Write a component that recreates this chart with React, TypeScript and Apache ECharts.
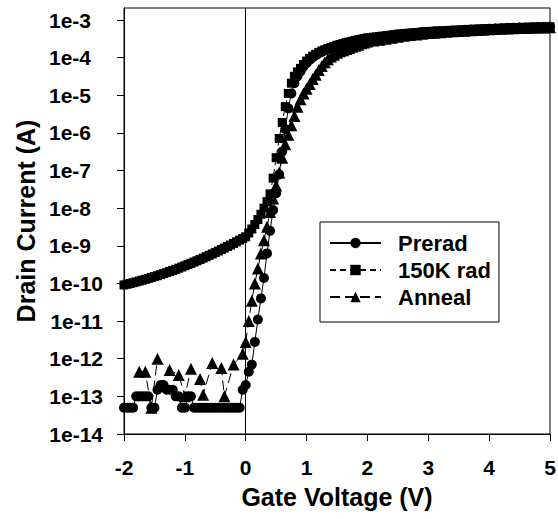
import React, { useEffect, useRef } from 'react';
import * as echarts from 'echarts';

// Gate voltage (V): 0.05 V steps up to 2 V, then 0.1 V steps
const GATE_V = [
  -2, -1.95, -1.9, -1.85, -1.8, -1.75, -1.7, -1.65, -1.6, -1.55, -1.5, -1.45, -1.4, -1.35, -1.3,
  -1.25, -1.2, -1.15, -1.1, -1.05, -1, -0.95, -0.9, -0.85, -0.8, -0.75, -0.7, -0.65, -0.6, -0.55,
  -0.5, -0.45, -0.4, -0.35, -0.3, -0.25, -0.2, -0.15, -0.1,
  -0.05, 0, 0.05, 0.1, 0.15, 0.2, 0.25, 0.3, 0.35, 0.4, 0.45, 0.5, 0.55, 0.6, 0.65, 0.7, 0.75, 0.8,
  0.85, 0.9, 0.95, 1, 1.05, 1.1, 1.15, 1.2, 1.25, 1.3, 1.35, 1.4, 1.45, 1.5, 1.55, 1.6, 1.65, 1.7,
  1.75, 1.8, 1.85, 1.9, 1.95, 2,
  2.1, 2.2, 2.3, 2.4, 2.5, 2.6, 2.7, 2.8, 2.9, 3, 3.1, 3.2, 3.3, 3.4, 3.5, 3.6, 3.7, 3.8, 3.9, 4,
  4.1, 4.2, 4.3, 4.4, 4.5, 4.6, 4.7, 4.8, 4.9, 5,
];

// Drain current (A)
const PRERAD = [
  5e-14, 5e-14, 5e-14, 5e-14, 1e-13, 1e-13, 1e-13, 1e-13, 1e-13, 5e-14, 5e-14, 1.5e-13, 2e-13, 2e-13, 1.5e-13,
  1.5e-13, 1.5e-13, 1e-13, 1e-13, 5e-14, 5e-14, 1e-13, 1e-13, 5e-14, 5e-14, 5e-14, 5e-14, 5e-14, 5e-14, 5e-14,
  5e-14, 5e-14, 5e-14, 5e-14, 5e-14, 5e-14, 5e-14, 5e-14, 5e-14,
  1.5e-13, 2e-13, 4.5e-13, 7e-13, 2.8e-12, 1.1e-11, 4e-11, 1.4e-10, 6.3e-10, 2.5e-9, 8.9e-9, 2.5e-8, 7.9e-8,
  3.2e-7, 1.26e-6, 4.5e-6, 1.12e-5, 2.1e-5, 3.2e-5, 4.3e-5, 5.8e-5, 7.2e-5, 8.7e-5, 1.02e-4, 1.17e-4,
  1.32e-4, 1.45e-4, 1.58e-4, 1.7e-4, 1.82e-4, 1.95e-4, 2.09e-4, 2.2e-4, 2.34e-4, 2.45e-4, 2.57e-4,
  2.7e-4, 2.82e-4, 2.95e-4, 3.09e-4, 3.2e-4, 3.31e-4,
  3.47e-4, 3.63e-4, 3.8e-4, 3.98e-4, 4.17e-4, 4.32e-4, 4.47e-4, 4.62e-4, 4.79e-4, 4.9e-4, 5.01e-4,
  5.13e-4, 5.19e-4, 5.31e-4, 5.37e-4, 5.5e-4, 5.62e-4, 5.69e-4, 5.82e-4, 5.89e-4, 5.96e-4, 6.03e-4,
  6.17e-4, 6.24e-4, 6.31e-4, 6.38e-4, 6.46e-4, 6.5e-4, 6.56e-4, 6.61e-4,
];

const RAD_150K = [
  9.12e-11, 9.53e-11, 9.98e-11, 1.05e-10, 1.1e-10, 1.16e-10, 1.22e-10, 1.29e-10, 1.36e-10, 1.44e-10,
  1.52e-10, 1.61e-10, 1.72e-10, 1.83e-10, 1.95e-10, 2.08e-10, 2.22e-10, 2.38e-10, 2.55e-10, 2.74e-10,
  2.95e-10, 3.18e-10, 3.43e-10, 3.71e-10, 4.01e-10, 4.35e-10, 4.72e-10, 5.13e-10, 5.58e-10, 6.08e-10,
  6.64e-10, 7.26e-10, 7.96e-10, 8.73e-10, 9.59e-10, 1.05e-9, 1.16e-9, 1.28e-9, 1.42e-9,
  1.57e-9, 1.74e-9, 2.2e-9, 2.8e-9, 3.7e-9, 5e-9, 6.9e-9, 1e-8, 1.5e-8, 2.4e-8, 6.3e-8, 2.2e-7, 7.1e-7,
  1.9e-6, 5e-6, 1.12e-5, 2.1e-5, 3.2e-5, 4.2e-5, 5.2e-5, 6.6e-5, 8.1e-5, 9.5e-5, 1.1e-4, 1.23e-4,
  1.38e-4, 1.51e-4, 1.62e-4, 1.74e-4, 1.86e-4, 2e-4, 2.14e-4, 2.25e-4, 2.37e-4, 2.5e-4, 2.6e-4,
  2.73e-4, 2.85e-4, 2.98e-4, 3.1e-4, 3.22e-4, 3.34e-4,
  3.5e-4, 3.66e-4, 3.83e-4, 4e-4, 4.2e-4, 4.35e-4, 4.5e-4, 4.66e-4, 4.82e-4, 4.94e-4, 5.05e-4,
  5.16e-4, 5.24e-4, 5.35e-4, 5.42e-4, 5.54e-4, 5.66e-4, 5.74e-4, 5.86e-4, 5.93e-4, 6e-4, 6.08e-4,
  6.2e-4, 6.28e-4, 6.35e-4, 6.42e-4, 6.5e-4, 6.55e-4, 6.6e-4, 6.65e-4,
];

// null = not plotted (no measurable current)
const ANNEAL = [
  null, null, null, null, null, 4.5e-13, null, 4.5e-13, null, 5e-14, null, 1e-12, null, null, null,
  5e-13, null, null, 3.7e-13, null, 1e-13, null, 5.4e-13, null, null, 2.9e-13, 1.1e-13, null, null, 7.7e-13,
  null, null, 5.7e-13, 1e-13, null, null, 7e-13, null, null,
  1.35e-12, 2.8e-12, 1e-11, 3.5e-11, 1e-10, 2.5e-10, 6.3e-10, 1.4e-9, 3.2e-9, 7.9e-9, 1.8e-8, 4e-8, 8.9e-8,
  2.2e-7, 5e-7, 9e-7, 1.6e-6, 2.8e-6, 5e-6, 7.9e-6, 1.12e-5, 1.5e-5, 2e-5, 2.7e-5, 3.5e-5,
  4.7e-5, 6e-5, 7.6e-5, 9.1e-5, 1.07e-4, 1.2e-4, 1.35e-4, 1.48e-4, 1.58e-4, 1.7e-4, 1.82e-4,
  1.95e-4, 2.09e-4, 2.2e-4, 2.4e-4, 2.55e-4, 2.7e-4,
  2.85e-4, 3e-4, 3.2e-4, 3.4e-4, 3.6e-4, 3.8e-4, 3.98e-4, 4.15e-4, 4.32e-4, 4.5e-4, 4.62e-4,
  4.75e-4, 4.88e-4, 5e-4, 5.1e-4, 5.22e-4, 5.35e-4, 5.45e-4, 5.55e-4, 5.65e-4, 5.75e-4, 5.85e-4,
  5.95e-4, 6.03e-4, 6.1e-4, 6.18e-4, 6.25e-4, 6.32e-4, 6.38e-4, 6.45e-4,
];

const SERIES_NAMES = ['Prerad', '150K rad', 'Anneal'];
const Y_TICK_EXPONENTS = [-14, -13, -12, -11, -10, -9, -8, -7, -6, -5, -4, -3];
const X_MIN = -2;
const X_MAX = 5;
const X_STEP = 1;

const FONT = '"Liberation Sans", Arial, Helvetica, sans-serif';

function toPoints(values: (number | null)[]) {
  const pts: [number, number][] = [];
  values.forEach((c, i) => {
    if (c != null && c > 0) pts.push([GATE_V[i], Math.log10(c)]);
  });
  return pts;
}

export default function App() {
  const ref = useRef<HTMLDivElement>(null);

  useEffect(() => {
    if (!ref.current) return;
    const chart = echarts.init(ref.current, null, { renderer: 'svg' });

    const baseSeries = (name: string, data: any, symbol: string, size: number, dash: any) => ({
      name,
      type: 'line',
      data,
      symbol,
      symbolSize: size,
      showAllSymbol: true,
      lineStyle: { color: '#000', width: 1, type: dash },
      itemStyle: { color: '#000', borderColor: '#000', borderWidth: 0 },
      emphasis: { disabled: true },
      silent: true,
    });

    const s1: any = baseSeries(SERIES_NAMES[0], toPoints(PRERAD), 'circle', 10, 'solid');
    s1.markLine = {
      silent: true,
      symbol: ['none', 'none'],
      label: { show: false },
      lineStyle: { color: '#000', width: 1, type: 'solid' },
      emphasis: { disabled: true },
      data: [{ xAxis: 0 }],
    };
    const s2 = baseSeries(SERIES_NAMES[1], toPoints(RAD_150K), 'rect', 9, [6, 4]);
    const s3 = baseSeries(SERIES_NAMES[2], toPoints(ANNEAL), 'triangle', 12, [10, 5]);

    const option: any = {
      animation: false,
      backgroundColor: '#fff',
      textStyle: { fontFamily: FONT },
      grid: {
        left: 124,
        right: 8,
        top: 8,
        bottom: 85,
        show: true,
        borderColor: '#000',
        borderWidth: 1,
        containLabel: false,
        outerBoundsMode: 'none',
      },
      xAxis: {
        type: 'value',
        min: X_MIN,
        max: X_MAX,
        interval: X_STEP,
        name: 'Gate Voltage (V)',
        nameLocation: 'middle',
        nameGap: 50,
        nameTextStyle: { fontSize: 25, fontWeight: 'bold', color: '#000', fontFamily: FONT },
        axisLine: { show: true, onZero: false, lineStyle: { color: '#000', width: 1 } },
        axisTick: { show: true, inside: false, length: 7, lineStyle: { color: '#000', width: 1 } },
        axisLabel: { fontSize: 21, fontWeight: 'bold', color: '#000', margin: 23, fontFamily: FONT },
        splitLine: { show: false },
      },
      yAxis: {
        type: 'value',
        min: -14,
        max: -2.68,
        interval: 1,
        name: 'Drain Current (A)',
        nameLocation: 'middle',
        nameGap: 83,
        nameTextStyle: { fontSize: 25, fontWeight: 'bold', color: '#000', fontFamily: FONT },
        axisLine: { show: true, onZero: false, lineStyle: { color: '#000', width: 1 } },
        axisTick: {
          show: true,
          inside: false,
          length: 7,
          customValues: Y_TICK_EXPONENTS,
          lineStyle: { color: '#000', width: 1 },
        },
        axisLabel: {
          customValues: Y_TICK_EXPONENTS,
          margin: 21,
          fontSize: 21,
          fontWeight: 'bold',
          color: '#000',
          fontFamily: FONT,
          formatter: (v: number) => {
            const s = '1e' + Math.round(v);
            return s.length <= 4 ? '{s|' + s + '}' : '{l|' + s + '}';
          },
          rich: {
            s: { fontSize: 21, fontWeight: 'bold', color: '#000', fontFamily: FONT, padding: [0, 12, 0, 0] },
            l: { fontSize: 21, fontWeight: 'bold', color: '#000', fontFamily: FONT },
          },
        },
        splitLine: { show: false },
      },
      legend: {
        show: true,
        orient: 'vertical',
        left: 320,
        top: 222,
        padding: [10, 8, 14, 9],
        itemGap: 5,
        itemWidth: 51,
        itemHeight: 13,
        borderColor: '#000',
        borderWidth: 1,
        borderRadius: 0,
        backgroundColor: '#fff',
        selectedMode: false,
        data: SERIES_NAMES,
        textStyle: {
          fontSize: 22,
          fontWeight: 'bold',
          color: '#000',
          fontFamily: FONT,
          lineHeight: 22,
          padding: [0, 0, 0, 12],
        },
      },
      series: [s1, s2, s3],
    };

    chart.setOption(option);
    return () => chart.dispose();
  }, []);

  return (
    <div
      ref={ref}
      style={{ position: 'fixed', left: 0, top: 0, width: 558, height: 519, background: '#fff' }}
    />
  );
}
